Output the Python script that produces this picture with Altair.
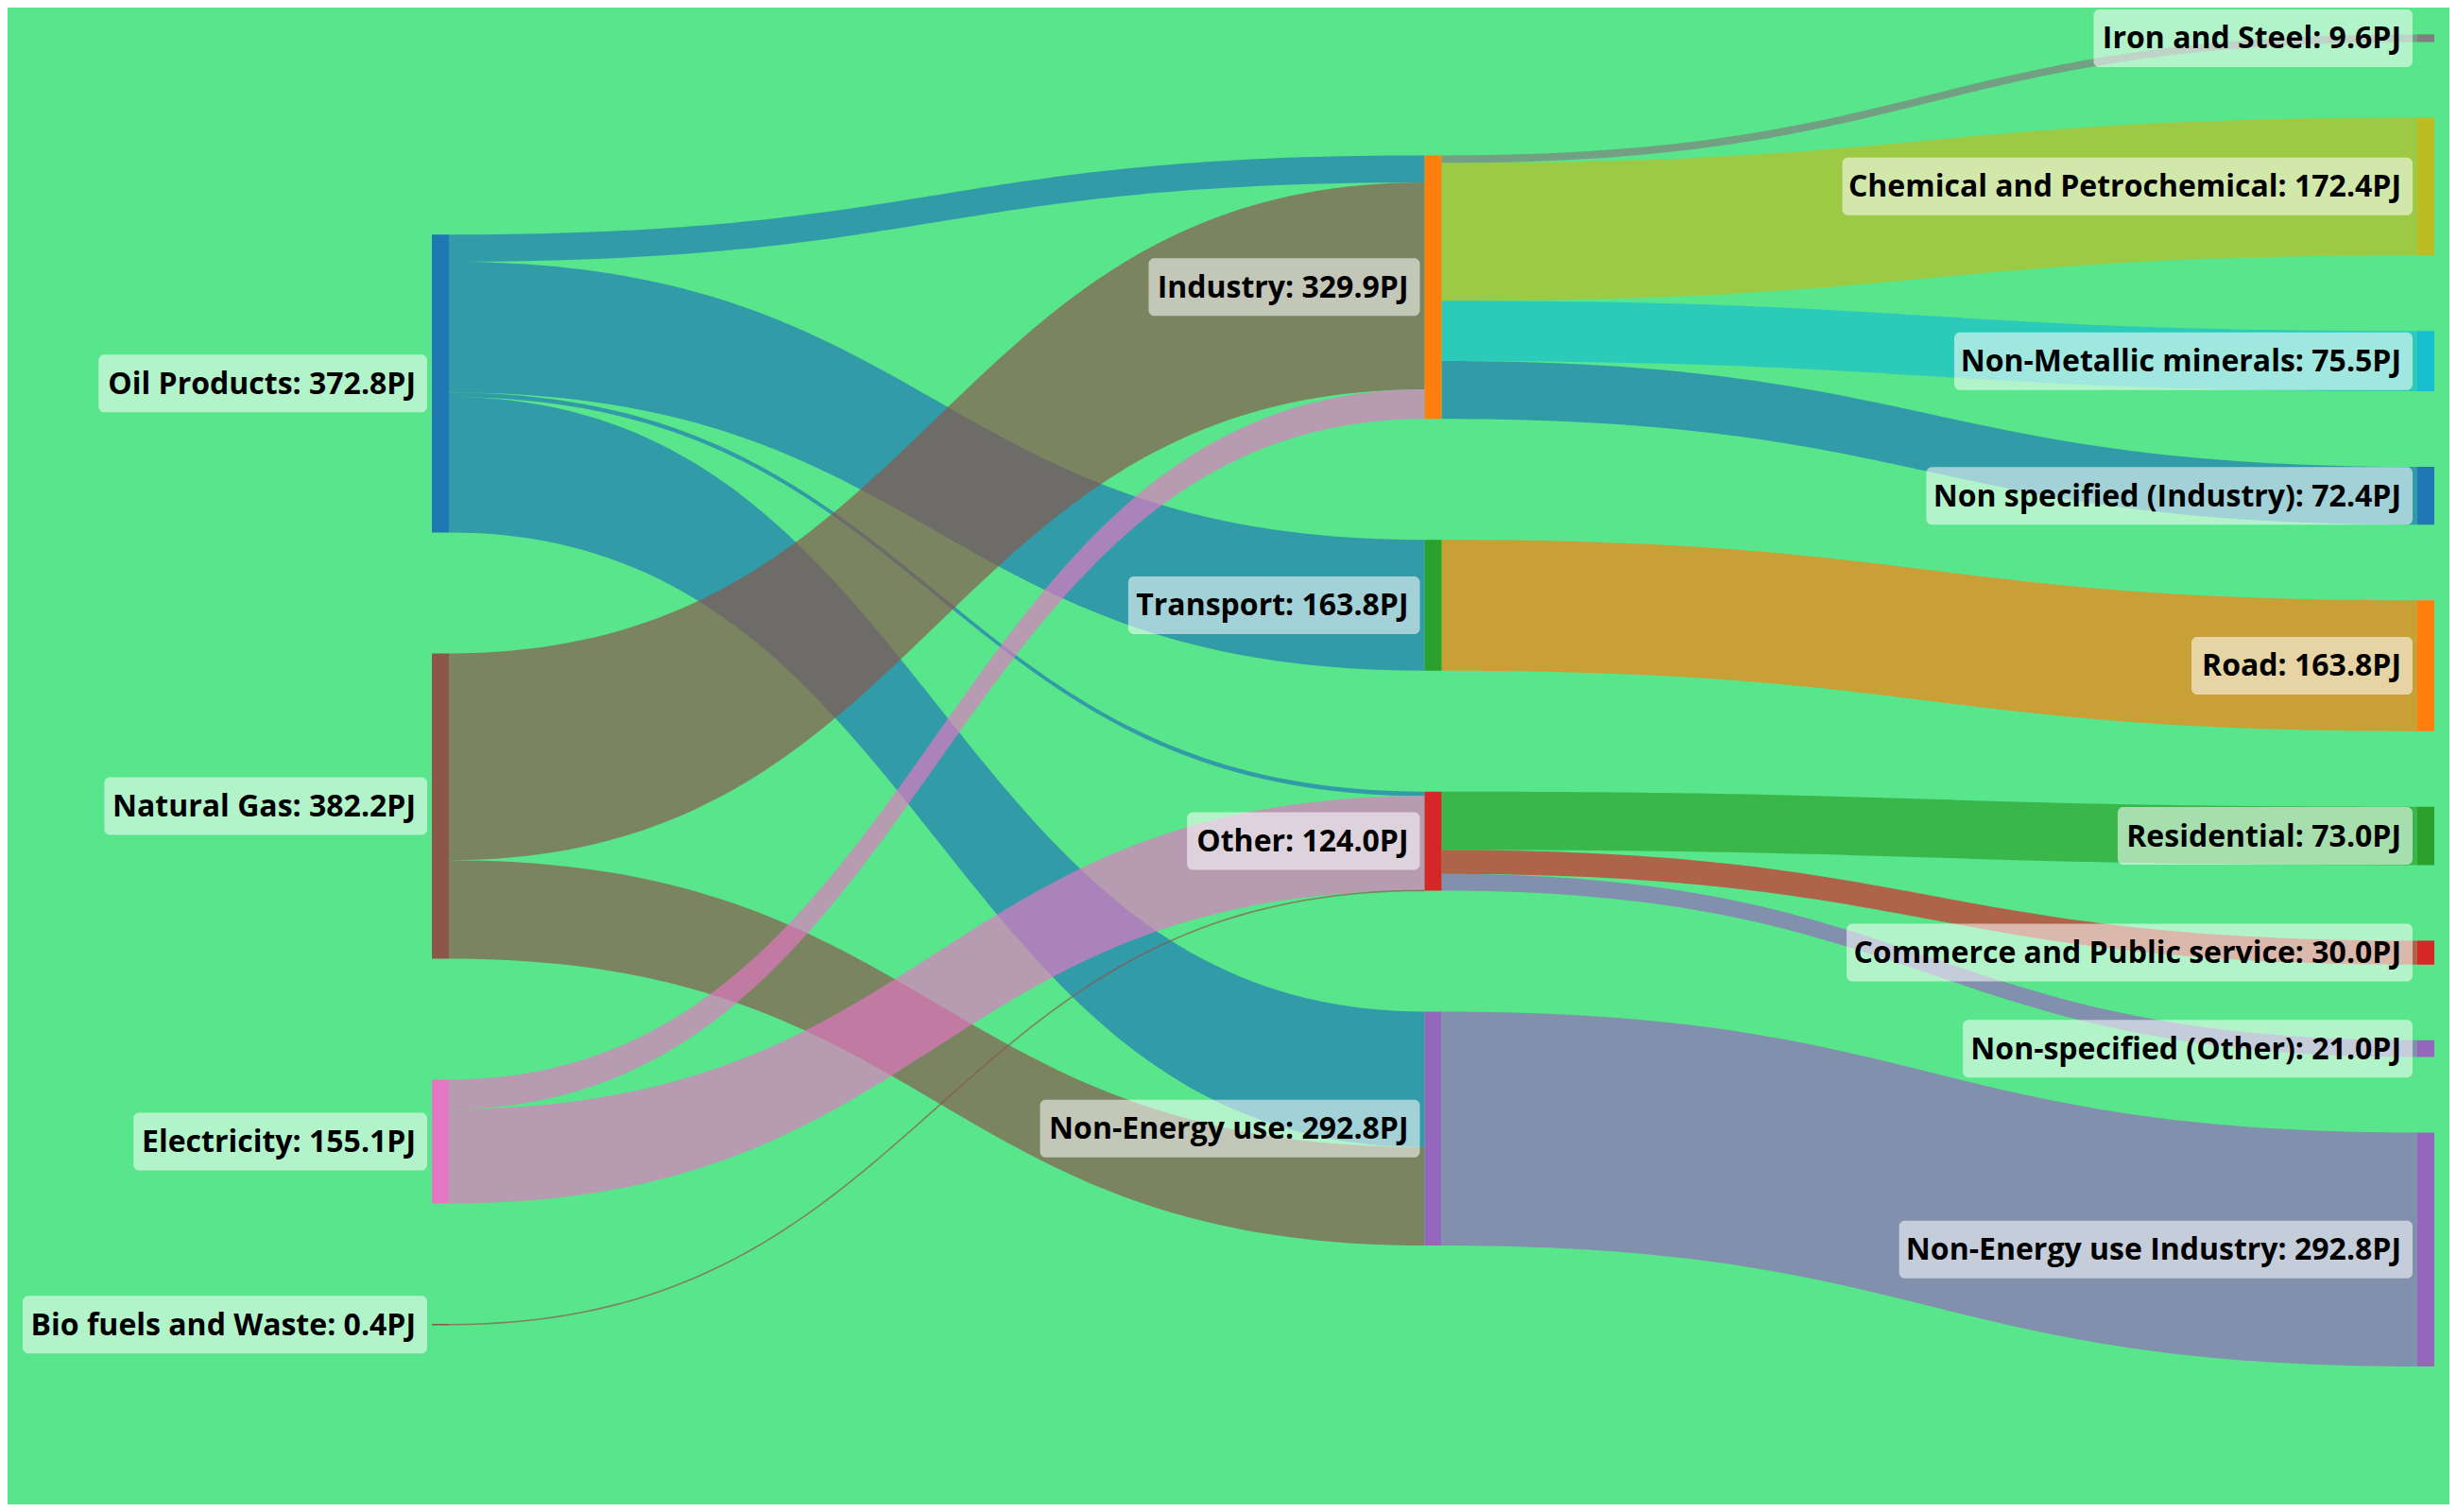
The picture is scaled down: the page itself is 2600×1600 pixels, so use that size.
import altair as alt
import pandas as pd
import numpy as np

# ---------------- data ----------------
NODE_NAMES = [
    "Oil Products", "Industry", "Transport", "Other", "Non-Energy use",
    "Natural Gas", "Electricity", "Iron and Steel", "Chemical and Petrochemical",
    "Non-Metallic minerals", "Non specified (Industry)", "Road", "Residential",
    "Commerce and Public service", "Non-specified (Other)", "Bio fuels and Waste",
    "Non-Energy use Industry",
]
NODE_COLORS = [
    "#1f77b4", "#ff7f0e", "#2ca02c", "#d62728", "#9467bd",
    "#8c564b", "#e377c2", "#7f7f7f", "#bcbd22",
    "#17becf", "#1f77b4", "#ff7f0e", "#2ca02c",
    "#d62728", "#9467bd", "#8c564b",
    "#9467bd",
]
LINK_SOURCE = ["Oil Products"] * 4 + ["Natural Gas"] * 2 + ["Electricity"] * 2 + \
    ["Bio fuels and Waste"] + ["Industry"] * 4 + ["Transport"] + ["Other"] * 3 + ["Non-Energy use"]
LINK_TARGET = [
    "Industry", "Transport", "Other", "Non-Energy use",
    "Industry", "Non-Energy use",
    "Industry", "Other",
    "Other",
    "Iron and Steel", "Chemical and Petrochemical", "Non-Metallic minerals", "Non specified (Industry)",
    "Road",
    "Residential", "Commerce and Public service", "Non-specified (Other)",
    "Non-Energy use Industry",
]
LINK_VALUE = [33.9, 163.8, 5.5, 169.6, 259.0, 123.2, 37.0, 118.1, 0.4,
              9.6, 172.4, 75.5, 72.4, 163.8, 73.0, 30.0, 21.0, 292.8]
UNIT = "PJ"

# ---------------- layout settings ----------------
EXT_X0, EXT_X1 = 457.0, 2576.0
EXT_Y0, EXT_Y1 = 36.4, 1446.0
NODE_W = 18.0
NODE_GAP = 80.0
MIN_VISIBLE = 1.6
BG = "#58e58b"
LINK_OPACITY = 0.68
FONT = "Open Sans"
FONT_SIZE = 32

# Open Sans Bold advance widths (units per em 2048), approximate
CW = {' ': 532, '(': 694, ')': 694, '-': 659, '.': 586, ':': 586,
      'A': 1413, 'B': 1423, 'C': 1321, 'D': 1528, 'E': 1182, 'F': 1126, 'G': 1511,
      'H': 1571, 'I': 700, 'J': 586, 'K': 1356, 'L': 1147, 'M': 1936, 'N': 1659,
      'O': 1636, 'P': 1343, 'R': 1378, 'S': 1159, 'T': 1175, 'U': 1548, 'V': 1329, 'W': 1984,
      'a': 1206, 'b': 1282, 'c': 1046, 'd': 1282, 'e': 1208, 'f': 782, 'g': 1140,
      'h': 1327, 'i': 614, 'j': 614, 'k': 1255, 'l': 614, 'm': 1972, 'n': 1327,
      'o': 1255, 'p': 1282, 'q': 1282, 'r': 907, 's': 1006, 't': 834, 'u': 1327,
      'v': 1134, 'w': 1660, 'x': 1179, 'y': 1134, 'z': 1001}


def text_width(s, size):
    return sum((1171 if c.isdigit() else CW.get(c, 1150)) for c in s) / 2048.0 * size


# ---------------- sankey layout ----------------
def sankey_layout():
    n = len(NODE_NAMES)
    idx = {nm: i for i, nm in enumerate(NODE_NAMES)}
    nodes = [dict(i=i, src=[], tgt=[]) for i in range(n)]
    links = []
    for k, (s, t, v) in enumerate(zip(LINK_SOURCE, LINK_TARGET, LINK_VALUE)):
        L = dict(k=k, s=nodes[idx[s]], t=nodes[idx[t]], v=v)
        links.append(L)
        L["s"]["src"].append(L)
        L["t"]["tgt"].append(L)
    for nd in nodes:
        nd["value"] = max(sum(l["v"] for l in nd["src"]), sum(l["v"] for l in nd["tgt"]))
    # depths (longest path from sources)
    current = list(nodes)
    d = 0
    while current:
        nxt = []
        for nd in current:
            nd["depth"] = d
            for l in nd["src"]:
                if l["t"] not in nxt:
                    nxt.append(l["t"])
        current = nxt
        d += 1
    nlayers = d
    for nd in nodes:
        nd["layer"] = nd["depth"] if nd["src"] else nlayers - 1
    kx = (EXT_X1 - EXT_X0 - NODE_W) / (nlayers - 1)
    for nd in nodes:
        nd["x0"] = EXT_X0 + nd["layer"] * kx
        nd["x1"] = nd["x0"] + NODE_W
    columns = [[nd for nd in nodes if nd["layer"] == c] for c in range(nlayers)]
    py = NODE_GAP
    H = EXT_Y1 - EXT_Y0
    ky = min((H - (len(c) - 1) * py) / sum(nd["value"] for nd in c) for c in columns)
    for l in links:
        l["w"] = l["v"] * ky
    # spread every column evenly (gaps >= py), data order kept
    for col in columns:
        tot = sum(nd["value"] * ky for nd in col)
        g = max(py, (H - tot) / (len(col) + 1))
        m = (H - tot - (len(col) - 1) * g) / 2
        y = EXT_Y0 + m
        for nd in col:
            nd["y0"] = y
            nd["y1"] = y + nd["value"] * ky
            y = nd["y1"] + g

    def centre(nd):
        return (nd["y0"] + nd["y1"]) / 2

    # source-only column: rigid shift towards the weighted centre of its targets
    for col in columns:
        if all(not nd["tgt"] for nd in col) and any(nd["src"] for nd in col):
            num_s = sum(l["v"] * centre(nd) for nd in col for l in nd["src"])
            num_t = sum(l["v"] * centre(l["t"]) for nd in col for l in nd["src"])
            den = sum(l["v"] for nd in col for l in nd["src"])
            shift = (num_t - num_s) / den
            for nd in col:
                nd["y0"] += shift
                nd["y1"] += shift
            y = EXT_Y1
            for nd in reversed(col):
                if nd["y1"] > y:
                    dy = nd["y1"] - y
                    nd["y0"] -= dy
                    nd["y1"] -= dy
                y = nd["y0"] - py
            y = EXT_Y0
            for nd in col:
                if nd["y0"] < y:
                    dy = y - nd["y0"]
                    nd["y0"] += dy
                    nd["y1"] += dy
                y = nd["y1"] + py
    for nd in nodes:
        nd["src"].sort(key=lambda l: (l["t"]["y0"], l["k"]))
        nd["tgt"].sort(key=lambda l: (l["s"]["y0"], l["k"]))
    for nd in nodes:
        a = nd["y0"]
        for l in nd["src"]:
            l["sy"] = a
            a += l["w"]
        b = nd["y0"]
        for l in nd["tgt"]:
            l["ty"] = b
            b += l["w"]
    return nodes, links, nlayers


nodes, links, nlayers = sankey_layout()

# ---------------- tables for the marks ----------------
T = np.linspace(0.0, 1.0, 90)
link_rows, thin_rows = [], []
for l in links:
    s, t = l["s"], l["t"]
    xa, xb = s["x1"], t["x0"]
    cx = (xa + xb) / 2
    ya, yb = l["sy"], l["ty"]
    col = NODE_COLORS[t["i"]] if t["layer"] == nlayers - 1 else NODE_COLORS[s["i"]]
    for j, tt in enumerate(T):
        u = 1 - tt
        x = u ** 3 * xa + 3 * u * u * tt * cx + 3 * u * tt * tt * cx + tt ** 3 * xb
        y = u ** 3 * ya + 3 * u * u * tt * ya + 3 * u * tt * tt * yb + tt ** 3 * yb
        if l["w"] < MIN_VISIBLE:
            thin_rows.append(dict(lid=l["k"], j=j, x=x, y=y + l["w"] / 2, color=col))
        else:
            link_rows.append(dict(lid=l["k"], x=x, y=y, y2=y + l["w"], color=col))
link_df = pd.DataFrame(link_rows)
thin_df = pd.DataFrame(thin_rows)

node_rows, box_rows = [], []
for nd in nodes:
    name = NODE_NAMES[nd["i"]]
    cy = (nd["y0"] + nd["y1"]) / 2
    h = max(nd["y1"] - nd["y0"], MIN_VISIBLE)
    node_rows.append(dict(name=name, x=nd["x0"], x1=nd["x1"], y=cy - h / 2, y2=cy + h / 2,
                          color=NODE_COLORS[nd["i"]]))
    label = f"{name}: {nd['value']:.1f}{UNIT}"
    tr = nd["x0"] - 5 - 12
    tw = text_width(label, FONT_SIZE)
    box_rows.append(dict(label=label, tx=tr, ty=cy, bx0=tr - tw - 12, bx1=nd["x0"] - 5,
                         by0=cy - 30.5, by1=cy + 30.5))
node_df = pd.DataFrame(node_rows)
box_df = pd.DataFrame(box_rows)

xs = alt.Scale(domain=[8, 2592], nice=False, zero=False)
ys = alt.Scale(domain=[8, 1592], nice=False, zero=False, reverse=True)

link_layer = alt.Chart(link_df).mark_area(opacity=LINK_OPACITY, interpolate="linear").encode(
    x=alt.X("x:Q", scale=xs, axis=None),
    y=alt.Y("y:Q", scale=ys, axis=None),
    y2="y2:Q",
    color=alt.Color("color:N", scale=None),
    detail="lid:N",
)
thin_layer = alt.Chart(thin_df).mark_line(opacity=LINK_OPACITY, strokeWidth=MIN_VISIBLE).encode(
    x=alt.X("x:Q", scale=xs, axis=None),
    y=alt.Y("y:Q", scale=ys, axis=None),
    color=alt.Color("color:N", scale=None),
    detail="lid:N",
    order="j:Q",
)
node_layer = alt.Chart(node_df).mark_rect().encode(
    x=alt.X("x:Q", scale=xs, axis=None),
    x2="x1:Q",
    y=alt.Y("y:Q", scale=ys, axis=None),
    y2="y2:Q",
    color=alt.Color("color:N", scale=None),
)
box_layer = alt.Chart(box_df).mark_rect(color="white", opacity=0.55, cornerRadius=6).encode(
    x=alt.X("bx0:Q", scale=xs, axis=None),
    x2="bx1:Q",
    y=alt.Y("by0:Q", scale=ys, axis=None),
    y2="by1:Q",
)
text_layer = alt.Chart(box_df).mark_text(
    align="right", baseline="middle", font=FONT, fontSize=FONT_SIZE, fontWeight="bold",
    color="#000000", dy=1,
).encode(
    x=alt.X("tx:Q", scale=xs, axis=None),
    y=alt.Y("ty:Q", scale=ys, axis=None),
    text="label:N",
)

chart = alt.layer(link_layer, thin_layer, node_layer, box_layer, text_layer).properties(
    width=2584, height=1584, padding=0, autosize="none", background=BG,
).configure_view(strokeWidth=0)

chart.save("out.html", embed_options={"renderer": "svg", "actions": False})
